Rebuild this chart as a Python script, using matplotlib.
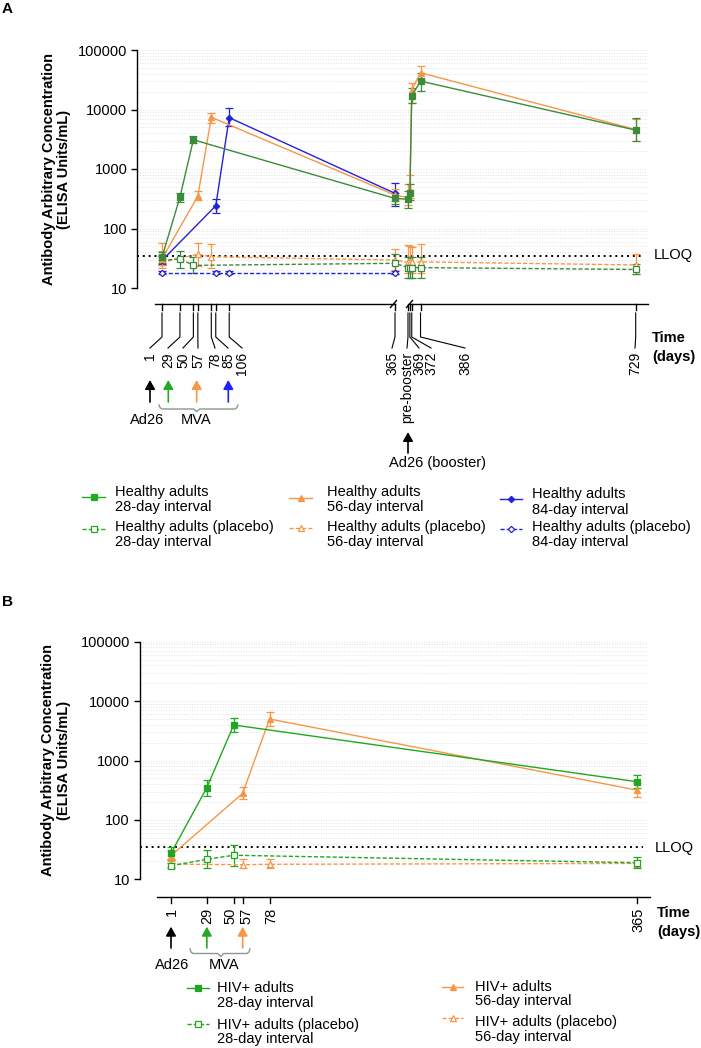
import numpy as np
import matplotlib
matplotlib.use("Agg")
from matplotlib import pyplot as plt
from matplotlib.ticker import FixedLocator, NullFormatter, LogLocator

plt.rcParams['font.family'] = ['Liberation Sans', 'DejaVu Sans']

# ---------------- data: panel A (healthy adults) ----------------
# 366 stands for the pre-booster sample (day of Ad26 booster)
a_tick_days = [1, 29, 50, 57, 78, 85, 106, 365, 366, 369, 372, 386, 729]
a_tick_labels = ['1', '29', '50', '57', '78', '85', '106', '365', 'pre-booster',
                 '369', '372', '386', '729']

green_days = [1, 29, 50, 365, 366, 369, 372, 386, 729]
green_gmt = [33, 335, 3100, 320, 310, 390, 17000, 30000, 4500]
green_lo = [26, 280, 2700, 255, 220, 300, 12900, 20700, 2960]
green_hi = [41, 390, 3550, 400, 420, 560, 22900, 41500, 7100]

orange_days = [1, 57, 78, 365, 366, 369, 372, 386, 729]
orange_gmt = [31, 350, 7400, 365, 330, 440, 21300, 41500, 4600]
orange_lo = [24, 300, 6000, 290, 250, 330, 13000, 31300, 3000]
orange_hi = [42, 420, 8850, 460, 560, 800, 27900, 54500, 7000]

blue_days = [1, 85, 106, 365]
blue_gmt = [29, 241, 7300, 390]
blue_lo = [25, 185, 5300, 240]
blue_hi = [34, 313, 10500, 575]

green_pl_gmt = [29, 31, 24, 26, 22, 22, 22, 22, 20.5]
green_pl_lo = [24, 21.5, 18, 17, 15, 15, 15, 15, 17]
green_pl_hi = [36, 42, 33, 37, 33, 33, 33, 33, 25]

orange_pl_gmt = [27, 37, 33.5, 29.5, 27, 27, 27, 27.5, 24.4]
orange_pl_lo = [22, 23, 21.5, 20, 18, 18, 18, 18, 17]
orange_pl_hi = [57, 58, 54, 46, 52, 50, 48, 54, 38]

blue_pl_gmt = [18, 18, 18, 18]
blue_pl_lo = [17, 17, 17, 17]
blue_pl_hi = [19, 19, 19, 19]

# ---------------- data: panel B (HIV+ adults) ----------------
b_tick_days = [1, 29, 50, 57, 78, 365]
b_tick_labels = ['1', '29', '50', '57', '78', '365']

hiv28_days = [1, 29, 50, 365]
hiv28_gmt = [27.4, 349, 3960, 440]
hiv28_lo = [21.7, 255, 3060, 340]
hiv28_hi = [35.4, 470, 5260, 570]

hiv56_days = [1, 57, 78, 365]
hiv56_gmt = [25, 280, 5000, 318]
hiv56_lo = [20, 222, 3810, 240]
hiv56_hi = [31, 354, 6470, 413]

hiv28_pl_gmt = [16.9, 21.7, 25.4, 19]
hiv28_pl_lo = [15.5, 15.3, 16.9, 15.3]
hiv28_pl_hi = [18.5, 31, 37.3, 23.4]

hiv56_pl_gmt = [18, 17.6, 17.9, 18.5]
hiv56_pl_lo = [16, 15.3, 15.5, 16]
hiv56_pl_hi = [21, 21.7, 21.7, 21]

LLOQ = 35

# colours
A_GREEN = '#3b8b3b'
ORANGE = '#f79646'
BLUE = '#2222d8'
B_GREEN = '#1fa81f'
LEG_GREEN = '#22aa22'
BRACE = '#8a9a8a'

W, H = 701, 1048
fig = plt.figure(figsize=(W / 100, H / 100), dpi=100)


def axes_px(left, top, right, bottom):
    return fig.add_axes([left / W, 1 - bottom / H, (right - left) / W, (bottom - top) / H])


def xpos(days):
    # broken axis: after day 365 the booster part is shifted and squeezed a bit
    d = np.asarray(days, dtype=float)
    return np.where(d <= 365, d, 385.3 + (d - 366) * 0.98)


def setup_axes(ax, xlim):
    ax.set_yscale('log')
    ax.set_ylim(10, 100000)
    ax.set_xlim(*xlim)
    for s in ['top', 'right', 'bottom']:
        ax.spines[s].set_visible(False)
    ax.spines['left'].set_linewidth(1.0)
    ax.set_xticks([])
    ax.yaxis.set_major_locator(FixedLocator([10, 100, 1000, 10000, 100000]))
    ax.set_yticklabels(['10', '100', '1000', '10000', '100000'], fontsize=10.5)
    ax.yaxis.set_minor_locator(LogLocator(base=10, subs=np.arange(2, 10)))
    ax.yaxis.set_minor_formatter(NullFormatter())
    ax.tick_params(axis='y', which='major', length=4, width=1, pad=3)
    ax.tick_params(axis='y', which='minor', length=0)
    ax.yaxis.grid(True, which='both', color='#e2e2e2', linestyle=':', linewidth=0.7)
    ax.set_axisbelow(True)
    ax.axhline(LLOQ, xmin=0, xmax=0.99, color='k', linestyle=(0, (1, 2)), lw=1.4, zorder=1)


def series(ax, x, gmt, lo, hi, color, marker, ms, placebo):
    gmt = np.asarray(gmt, dtype=float)
    err = [gmt - np.asarray(lo), np.asarray(hi) - gmt]
    ax.errorbar(x, gmt, yerr=err, color=color, marker=marker, ms=ms,
                mfc='white' if placebo else color, mec=color, mew=0.9,
                ls=(0, (3, 1.5)) if placebo else '-', lw=1.0,
                elinewidth=0.9, capsize=3, capthick=0.9, clip_on=False,
                zorder=2 if placebo else 3)


ax_a = axes_px(137, 50, 648, 288)
setup_axes(ax_a, (1 - 25 / 0.6401, 1 + 486 / 0.6401))
series(ax_a, xpos(blue_days), blue_pl_gmt, blue_pl_lo, blue_pl_hi, BLUE, 'D', 3.2, True)
series(ax_a, xpos(orange_days), orange_pl_gmt, orange_pl_lo, orange_pl_hi, ORANGE, '^', 4.5, True)
series(ax_a, xpos(green_days), green_pl_gmt, green_pl_lo, green_pl_hi, A_GREEN, 's', 4.5, True)
series(ax_a, xpos(blue_days), blue_gmt, blue_lo, blue_hi, BLUE, 'D', 3.2, False)
series(ax_a, xpos(orange_days), orange_gmt, orange_lo, orange_hi, ORANGE, '^', 4.5, False)
series(ax_a, xpos(green_days), green_gmt, green_lo, green_hi, A_GREEN, 's', 4.5, False)

ax_b = axes_px(139.5, 641.7, 648, 879.3)
setup_axes(ax_b, (1 - 31.5 / 1.2797, 1 + 477 / 1.2797))
series(ax_b, hiv56_days, hiv56_pl_gmt, hiv56_pl_lo, hiv56_pl_hi, ORANGE, '^', 4.5, True)
series(ax_b, hiv28_days, hiv28_pl_gmt, hiv28_pl_lo, hiv28_pl_hi, B_GREEN, 's', 4.5, True)
series(ax_b, hiv56_days, hiv56_gmt, hiv56_lo, hiv56_hi, ORANGE, '^', 4.5, False)
series(ax_b, hiv28_days, hiv28_gmt, hiv28_lo, hiv28_hi, B_GREEN, 's', 4.5, False)

# overlay in figure pixels (y down) for the annotations
ov = fig.add_axes([0, 0, 1, 1])
ov.set_xlim(0, W)
ov.set_ylim(H, 0)
ov.set_axis_off()
ov.patch.set_visible(False)


def to_px(ax, pos):
    pos = np.atleast_1d(pos)
    return ax.transData.transform(np.column_stack([pos, np.full(len(pos), 100.0)]))[:, 0]


def arrow(x, tip, base, color):
    ov.annotate('', xy=(x, tip), xytext=(x, base),
                arrowprops=dict(arrowstyle='-|>,head_length=0.45,head_width=0.25',
                                color=color, lw=1.2, mutation_scale=12, shrinkA=0, shrinkB=0))


def brace(x0, x1, xm, ytop, ymid, ydip):
    xs = [x0, x0 + 1, x0 + 3, xm - 3, xm, xm + 3, x1 - 3, x1 - 1, x1]
    ys = [ytop, ymid - 1.5, ymid, ymid, ydip, ymid, ymid, ymid - 1.5, ytop]
    ov.plot(xs, ys, color=BRACE, lw=1.0)


fs = 10.5

# ---- panel A annotations ----
ov.text(2, 9, 'A', fontsize=11, fontweight='bold', va='center')
ov.text(56.5, 169, 'Antibody Arbitrary Concentration\n(ELISA Units/mL)', rotation=90,
        ha='center', va='center', fontsize=fs, fontweight='bold', linespacing=1.1)
ov.text(654, 255, 'LLOQ', fontsize=fs, va='center')

a_label_x = [150, 168, 183, 198, 215, 228, 242, 392, 407, 419, 431, 465, 635]
a_tx = to_px(ax_a, xpos(a_tick_days))
x365 = a_tx[a_tick_days.index(365)]
xpre = a_tx[a_tick_days.index(366)]
ov.plot([155, x365], [304, 304], color='k', lw=1.0)
ov.plot([xpre + 2, 648], [304, 304], color='k', lw=1.0)
for cx in [x365 - 1.5, xpre + 1.5]:
    ov.plot([cx - 3, cx + 3], [307.5, 300.5], color='k', lw=1.0)
for tx, lab, lx in zip(a_tx, a_tick_labels, a_label_x):
    ov.plot([tx, tx], [304, 310], color='k', lw=1.0)
    ov.plot([tx, tx, lx], [313, 337, 348], color='k', lw=0.8)
    ov.text(lx, 352, lab, rotation=90, ha='center', va='top', fontsize=10)
ov.text(652, 338, 'Time', fontsize=fs, fontweight='bold', va='center')
ov.text(652, 357, '(days)', fontsize=fs, fontweight='bold', va='center')

arrow(150, 380, 402, 'k')
arrow(168.3, 380, 402, LEG_GREEN)
arrow(196.7, 380, 402, ORANGE)
arrow(228.3, 380, 402, '#1f1fff')
brace(159, 238, 196.7, 405, 409, 411.5)
ov.text(146.7, 420, 'Ad26', ha='center', va='center', fontsize=fs)
ov.text(195.8, 420, 'MVA', ha='center', va='center', fontsize=fs)
arrow(408, 432, 453, 'k')
ov.text(389, 463, 'Ad26 (booster)', va='center', fontsize=fs)

# legend A
def leg_handle(x0, x1, y, color, marker, ms, placebo):
    ov.plot([x0, x1], [y, y], color=color, lw=1.0, ls=(0, (3, 1.5)) if placebo else '-')
    ov.plot([(x0 + x1) / 2], [y], color=color, marker=marker, ms=ms,
            mfc='white' if placebo else color, mec=color, mew=0.9)


def leg_text(x, y1, y2, line1, line2):
    ov.text(x, y1, line1, va='center', fontsize=fs)
    ov.text(x, y2, line2, va='center', fontsize=fs)


leg_handle(82, 105, 497, LEG_GREEN, 's', 4.5, False)
leg_handle(82, 105, 529, LEG_GREEN, 's', 4.5, True)
leg_text(115, 492, 507, 'Healthy adults', '28-day interval')
leg_text(115, 527, 542, 'Healthy adults (placebo)', '28-day interval')
leg_handle(289, 312, 498, ORANGE, '^', 4.5, False)
leg_handle(289, 312, 528, ORANGE, '^', 4.5, True)
leg_text(326.7, 492, 507, 'Healthy adults', '56-day interval')
leg_text(326.7, 527, 542, 'Healthy adults (placebo)', '56-day interval')
leg_handle(500, 522, 499, BLUE, 'D', 3.2, False)
leg_handle(500, 522, 529, BLUE, 'D', 3.2, True)
leg_text(531.7, 494, 510, 'Healthy adults', '84-day interval')
leg_text(531.7, 527, 542, 'Healthy adults (placebo)', '84-day interval')

# ---- panel B annotations ----
ov.text(2, 602, 'B', fontsize=11, fontweight='bold', va='center')
ov.text(56, 760.5, 'Antibody Arbitrary Concentration\n(ELISA Units/mL)', rotation=90,
        ha='center', va='center', fontsize=fs, fontweight='bold', linespacing=1.1)
ov.text(655, 847.7, 'LLOQ', fontsize=fs, va='center')

b_label_x = [171.7, 207, 230, 246.7, 271.7, 638]
b_tx = to_px(ax_b, b_tick_days)
ov.plot([157, 650], [897.3, 897.3], color='k', lw=1.0)
for tx, lab, lx in zip(b_tx, b_tick_labels, b_label_x):
    ov.plot([tx, tx], [897.3, 903], color='k', lw=1.0)
    ov.text(lx, 908, lab, rotation=90, ha='center', va='top', fontsize=fs)
ov.text(657, 913.3, 'Time', fontsize=fs, fontweight='bold', va='center')
ov.text(657, 931.7, '(days)', fontsize=fs, fontweight='bold', va='center')

arrow(b_tx[0], 926.7, 948, 'k')
arrow(b_tx[1], 926.7, 948, LEG_GREEN)
arrow(b_tx[3], 926.7, 948, ORANGE)
brace(190, 250, 220.7, 949, 953.5, 956.5)
ov.text(171.7, 965, 'Ad26', ha='center', va='center', fontsize=fs)
ov.text(224.5, 965, 'MVA', ha='center', va='center', fontsize=fs)

leg_handle(187, 209, 988, B_GREEN, 's', 4.5, False)
leg_handle(187, 209, 1024, B_GREEN, 's', 4.5, True)
leg_text(217.3, 987.7, 1002.7, 'HIV+ adults', '28-day interval')
leg_text(217.3, 1025, 1039, 'HIV+ adults (placebo)', '28-day interval')
leg_handle(442, 463, 986.7, ORANGE, '^', 4.5, False)
leg_handle(442, 463, 1018.3, ORANGE, '^', 4.5, True)
leg_text(475, 986.7, 1000.7, 'HIV+ adults', '56-day interval')
leg_text(475, 1021.7, 1036.7, 'HIV+ adults (placebo)', '56-day interval')

fig.savefig('out.png', dpi=100)
